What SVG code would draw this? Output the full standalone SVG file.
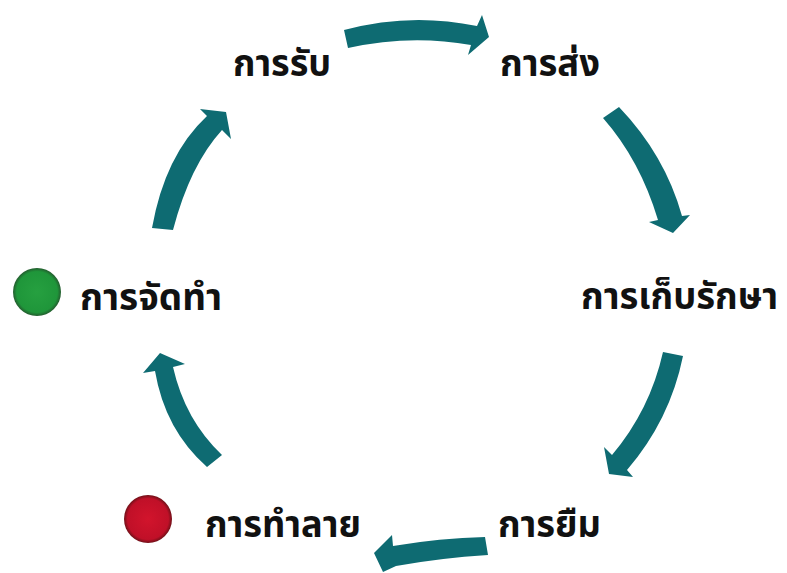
<svg xmlns="http://www.w3.org/2000/svg" width="787" height="573" viewBox="0 0 787 573">
<style>
.lbl{font-family:"Noto Sans Thai","Noto Sans","DejaVu Sans",sans-serif;font-size:38px;font-weight:bold;fill:#111}
.arr{fill:#0E6B72}
</style>
<defs>
<radialGradient id="gG" cx="0.5" cy="0.5" r="0.5">
<stop offset="0" stop-color="#26a040"/><stop offset="0.85" stop-color="#1f963a"/><stop offset="1" stop-color="#235c2e"/>
</radialGradient>
<radialGradient id="gR" cx="0.5" cy="0.5" r="0.5">
<stop offset="0" stop-color="#d2142c"/><stop offset="0.85" stop-color="#c01028"/><stop offset="1" stop-color="#701018"/>
</radialGradient>
</defs>
<rect width="787" height="573" fill="#fff"/>
<g id="connectors">
<path class="arr" d="M344,30 Q410,12 477,26 L482,15 L489,37 L468,55 L471,45 Q410,34 348,48 Z"/>
<path class="arr" d="M603,118 Q640,160 658,220 L649,222 L673,233 L690,215 L682,216 Q665,155 619,107 Z"/>
<path class="arr" d="M683,356 Q670,420 627,470 L633,477 L609,474 L604,447 L612,455 Q650,410 663,352 Z"/>
<path class="arr" d="M485,537 Q440,538 393,546 L392,535 L374,553 L383,572 L396,566 Q440,558 488,555 Z"/>
<path class="arr" d="M222,455 Q185,420 173,367 L185,364 L160,353 L143,373 L155,371 Q165,430 207,467 Z"/>
<path class="arr" d="M152,228 Q165,155 207,116 L200,109 L226,112 L231,139 L222,130 Q190,165 173,230 Z"/>
</g>
<g id="n-receive"><text class="lbl" x="233" y="76" textLength="98" lengthAdjust="spacingAndGlyphs">การรับ</text></g>
<g id="n-send"><text class="lbl" x="500" y="76" textLength="100" lengthAdjust="spacingAndGlyphs">การส่ง</text></g>
<g id="n-store"><text class="lbl" x="581" y="309" textLength="197" lengthAdjust="spacingAndGlyphs">การเก็บรักษา</text></g>
<g id="n-borrow"><text class="lbl" x="498" y="537" textLength="103" lengthAdjust="spacingAndGlyphs">การยืม</text></g>
<g id="n-destroy"><circle cx="148" cy="519" r="24" fill="url(#gR)"/><text class="lbl" x="205" y="537" textLength="156" lengthAdjust="spacingAndGlyphs">การทำลาย</text></g>
<g id="n-create"><circle cx="37" cy="292" r="24" fill="url(#gG)"/><text class="lbl" x="80" y="310" textLength="142" lengthAdjust="spacingAndGlyphs">การจัดทำ</text></g>
</svg>
